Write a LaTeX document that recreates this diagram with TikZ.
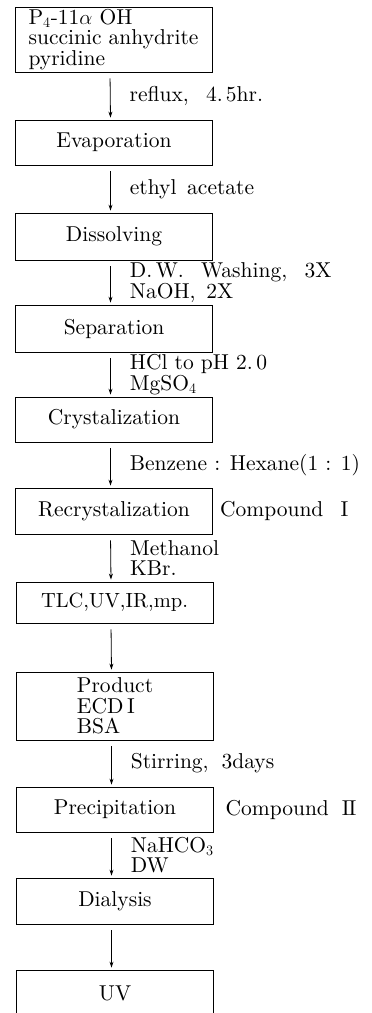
\documentclass[tikz,border=0pt]{standalone}
\usepackage{fontspec}
\setmainfont{lmroman10-regular.otf}
\usetikzlibrary{arrows.meta, positioning}

\begin{document}
\begin{tikzpicture}[
  x=1pt, y=-1pt,
  font=\fontsize{21.5}{20.5}\selectfont,
  stage/.style = {draw, line width=0.8pt, minimum width=197pt,
                  minimum height=46pt, inner sep=0pt, align=center},
  arr/.style   = {-{Stealth[length=6pt,width=4pt]}, line width=0.8pt,
                  shorten <=6pt, shorten >=2pt},
  cond/.style  = {midway, anchor=west, xshift=19pt, inner sep=0pt,
                  align=left},
  note/.style  = {inner sep=0pt}
]

\clip (0,0) rectangle (372,1013);

\node[stage, minimum height=65pt, align=left] (start) at (113.5,39.5)
  {P$_4$-11$\alpha$ OH\\succinic anhydrite\\pyridine};
\node[stage, minimum height=45pt] (evap)     at (114,142.5) {Evaporation};
\node[stage, minimum height=47pt] (dissolve) at (114,236.5) {Dissolving};
\node[stage, minimum height=47pt] (separate) at (114,328.5) {Separation};
\node[stage, minimum height=45pt] (cryst)    at (114,419.5) {Crystalization};
\node[stage]                      (recryst)  at (114,511)   {Recrystalization};
\node[stage, minimum height=41pt, font=\fontsize{20.5}{20}\selectfont]
  (analysis) at (114.5,602.5) {TLC,UV,IR,mp.};
\node[stage, minimum height=68pt, align=left] (product) at (115,706)
  {Product\\ECD\,I\\BSA};
\node[stage, minimum height=45pt] (precip)   at (115,809.5) {Precipitation};
\node[stage]                      (dialysis) at (115,901)   {Dialysis};
\node[stage]                      (uv)       at (115,993)   {UV};

\node[note, right=7pt of recryst]   (cmpdI)  {Compound\hspace{0.8em}I};
\node[note, right=11.5pt of precip] (cmpdII) {Compound\hspace{0.6em}I\kern-1pt I};

\draw[arr] ([xshift=-3.5pt]start.south) --
  node[cond]{reflux,\hspace{0.8em}4.\hspace{0.15em}5hr.} ([xshift=-3.5pt]evap.north);
\draw[arr] ([xshift=-3.5pt]evap.south) --
  node[cond]{ethyl\hspace{0.5em}acetate} ([xshift=-3.5pt]dissolve.north);
\draw[arr] ([xshift=-3.5pt]dissolve.south) --
  node[cond]{D.\,W.\hspace{0.8em}Washing,\hspace{0.8em}3X\\NaOH,\hspace{0.5em}2X}
  ([xshift=-3.5pt]separate.north);
\draw[arr] ([xshift=-3.5pt]separate.south) --
  node[cond]{HCl to pH 2.\,0\\MgSO$_4$} ([xshift=-3.5pt]cryst.north);
\draw[arr] ([xshift=-3.5pt]cryst.south) --
  node[cond]{Benzene : Hexane(1 : 1)} ([xshift=-3.5pt]recryst.north);
\draw[arr] ([xshift=-3.5pt]recryst.south) --
  node[cond]{Methanol\\KBr.} ([xshift=-3.5pt]analysis.north);
\draw[arr] ([xshift=-3.5pt]analysis.south) -- ([xshift=-3.5pt]product.north);
\draw[arr] ([xshift=-3.5pt]product.south) --
  node[cond]{Stirring,\hspace{0.6em}3days} ([xshift=-3.5pt]precip.north);
\draw[arr] ([xshift=-3.5pt]precip.south) --
  node[cond]{NaHCO$_3$\\DW} ([xshift=-3.5pt]dialysis.north);
\draw[arr] ([xshift=-3.5pt]dialysis.south) -- ([xshift=-3.5pt]uv.north);

\end{tikzpicture}
\end{document}
